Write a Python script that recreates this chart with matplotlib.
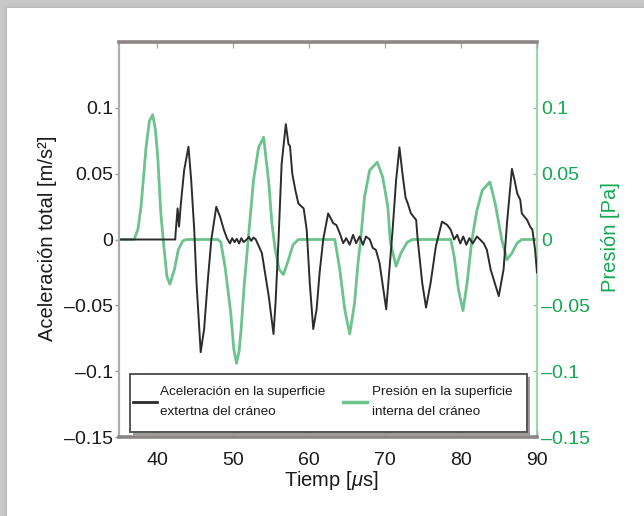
import matplotlib
matplotlib.use('Agg')
import matplotlib.pyplot as plt
from matplotlib.patches import Rectangle
from matplotlib.lines import Line2D
from matplotlib.ticker import FixedLocator, FixedFormatter

plt.rcParams['font.family'] = ['Liberation Sans', 'DejaVu Sans']
plt.rcParams['mathtext.fontset'] = 'custom'
plt.rcParams['mathtext.rm'] = 'Liberation Sans'
plt.rcParams['mathtext.it'] = 'Liberation Sans:italic'

# ---- data ----
accel_t = [35.0, 42.4, 42.45, 42.71, 42.9, 43.14, 43.57, 44.14, 44.5, 44.9, 45.2, 45.75,
           46.2, 46.7, 47.15, 47.8, 48.3, 48.8, 49.2, 49.6, 49.9, 50.2, 50.5, 50.8, 51.1,
           51.4, 51.8, 52.1, 52.4, 52.7, 53.0, 53.8, 54.7, 55.33, 55.6, 55.99, 56.4, 56.95,
           57.3, 57.5, 57.8, 58.2, 58.6, 59.3, 59.7, 60.1, 60.56, 61.0, 61.4, 61.87, 62.52,
           63.2, 63.6, 64.05, 64.5, 64.9, 65.36, 65.8, 66.2, 66.67, 67.1, 67.5, 68.0, 68.4,
           68.8, 69.28, 70.16, 71.0, 71.46, 71.9, 72.3, 72.7, 73.0, 73.4, 74.1, 74.3, 74.9,
           75.4, 76.0, 76.7, 77.5, 78.2, 78.65, 79.1, 79.5, 79.9, 80.3, 80.7, 81.1, 81.55,
           82.1, 82.5, 83.0, 83.4, 83.9, 84.97, 85.6, 86.05, 86.7, 87.05, 87.4, 87.8, 88.0,
           88.7, 89.1, 89.4, 89.75, 90.0]
accel_v = [0.0, 0.0, 0.005, 0.0236, 0.0098, 0.0273, 0.0525, 0.0705, 0.045, 0.0073, -0.033, -0.0856,
           -0.068, -0.030, 0.0, 0.0248, 0.0173, 0.0073, 0.001, -0.003, 0.001, -0.002, 0.0005, -0.003, 0.001,
           -0.002, 0.0, 0.002, -0.001, 0.0015, 0.0, -0.0103, -0.043, -0.0718, -0.048, 0.0, 0.0575, 0.0876,
           0.0725, 0.071, 0.050, 0.0376, 0.0273, 0.0236, 0.0073, -0.033, -0.068, -0.053, -0.025, 0.0, 0.0198,
           0.0123, 0.011, 0.0047, -0.0028, 0.001, -0.004, 0.0035, -0.0028, 0.0023, -0.004, 0.0023, 0.0, -0.0065,
           -0.0078, -0.0178, -0.053, 0.0073, 0.045, 0.070, 0.050, 0.032, 0.0273, 0.020, 0.0148, 0.0, -0.033,
           -0.0517, -0.033, -0.005, 0.0136, 0.011, 0.0073, 0.0, 0.0035, -0.003, 0.0023, -0.004, 0.001, -0.003,
           0.0023, 0.0, -0.003, -0.0078, -0.0228, -0.043, -0.0228, 0.0123, 0.0537, 0.045, 0.035, 0.030, 0.0198,
           0.0148, 0.0098, 0.0073, -0.008, -0.025]

press_t = [35.0, 37.0, 37.5, 37.9, 38.56, 39.0, 39.44, 39.8, 40.1, 40.5, 40.9, 41.3, 41.7, 42.3,
           42.8, 43.4, 43.9, 48.0, 48.4, 49.0, 49.7, 50.1, 50.46, 50.8, 51.07, 51.5, 52.0, 52.7,
           53.37, 54.03, 54.68, 55.12, 55.56, 56.08, 56.64, 57.3, 57.9, 58.6, 63.4, 64.05, 64.7,
           65.36, 66.0, 66.45, 66.8, 67.3, 67.97, 68.98, 69.7, 70.37, 70.7, 71.46, 72.1, 72.94,
           73.6, 78.65, 79.1, 79.66, 80.26, 80.8, 81.44, 82.1, 82.8, 83.8, 84.5, 85.36, 86.05,
           86.7, 87.37, 88.0, 90.0]
press_v = [0.0, 0.0, 0.008, 0.025, 0.070, 0.090, 0.0947, 0.083, 0.0625, 0.020, -0.005, -0.028, -0.0339, -0.0226,
           -0.0078, -0.001, 0.0, 0.0, -0.002, -0.0226, -0.0555, -0.083, -0.0941, -0.085, -0.068, -0.033, 0.0, 0.045,
           0.070, 0.0776, 0.045, 0.0123, -0.0078, -0.0228, -0.0266, -0.0153, -0.004, 0.0, 0.0, -0.0228, -0.053,
           -0.0718, -0.048, -0.0178, 0.0, 0.032, 0.0525, 0.0587, 0.0474, 0.025, -0.002, -0.0203, -0.0103, -0.002,
           0.0, 0.0, -0.0128, -0.038, -0.054, -0.033, 0.0, 0.0223, 0.0374, 0.0437, 0.0273, 0.0, -0.0153,
           -0.0103, -0.0028, 0.0, 0.0]

x_ticks = [40, 50, 60, 70, 80, 90]
y_ticks = [-0.15, -0.1, -0.05, 0, 0.05, 0.1]
y_tick_labels = ['\u20130.15', '\u20130.1', '\u20130.05', '0', '0.05', '0.1']

accel_label = 'Aceleración en la superficie\nextertna del cráneo'
press_label = 'Presión en la superficie\ninterna del cráneo'
x_title = r'Tiemp [$\mu$s]'
y_title = 'Aceleración total [m/s²]'
y2_title = 'Presión [Pa]'

# ---- styling ----
BLACK = '#2c2c2c'
GREEN_LINE = '#6cc38c'
GREEN_TXT = '#12a851'
W, H = 644, 516

fig = plt.figure(figsize=(W / 100, H / 100), dpi=100)
fig.patch.set_facecolor('#c9c9c9')
# soft shadow + white panel
for i, a in enumerate([0.05, 0.06, 0.08]):
    d = (3 - i) * 1.2
    fig.add_artist(Rectangle(((7 - d) / W, 0), 1, 1 - (8 - d) / H, transform=fig.transFigure,
                             facecolor='#888888', alpha=a, edgecolor='none', zorder=-2))
fig.add_artist(Rectangle((7 / W, 0), 1, 1 - 8 / H, transform=fig.transFigure,
                         facecolor='white', edgecolor='none', zorder=-1))

L, R, T, B = 119, 537, 42, 437
ax = fig.add_axes([L / W, 1 - B / H, (R - L) / W, (B - T) / H])
ax2 = ax.twinx()
ax2.set_zorder(1)
ax.set_zorder(2)
ax.patch.set_visible(False)
ax2.patch.set_visible(False)

ax2.plot(press_t, press_v, color=GREEN_LINE, lw=2.0, solid_joinstyle='round')
ax.plot(accel_t, accel_v, color=BLACK, lw=1.4, solid_joinstyle='round')

for a in (ax, ax2):
    a.set_xlim(35, 90)
    a.set_ylim(-0.15, 0.15)
    a.yaxis.set_major_locator(FixedLocator(y_ticks))
    a.yaxis.set_major_formatter(FixedFormatter(y_tick_labels))

ax.xaxis.set_major_locator(FixedLocator(x_ticks))
ax.set_xticklabels([str(v) for v in x_ticks])

ax.spines['top'].set_color('#8d8585')
ax.spines['top'].set_linewidth(2.6)
ax.spines['bottom'].set_color('#8d8585')
ax.spines['bottom'].set_linewidth(2.6)
ax.spines['left'].set_color('#b3abab')
ax.spines['left'].set_linewidth(1.6)
ax.spines['right'].set_visible(False)
for s in ('left', 'top', 'bottom'):
    ax2.spines[s].set_visible(False)
ax2.spines['right'].set_color('#9fd6ae')
ax2.spines['right'].set_linewidth(1.6)

ax.tick_params(axis='y', direction='out', length=3, width=1, color='#a09898',
               labelsize=14, pad=1, labelcolor='#1a1a1a')
ax.tick_params(axis='x', direction='in', length=4, width=1, color='#b0a8a8',
               labelsize=14, pad=11, top=True, labelcolor='#1a1a1a')
ax2.tick_params(axis='y', direction='in', length=3, width=1, color='#b0b0b0',
                labelsize=14, pad=3, labelcolor=GREEN_TXT)

fig.text(48 / W, 1 - 238 / H, y_title, rotation=90, ha='center', va='center',
         fontsize=14.5, color='#1a1a1a')
fig.text(611 / W, 1 - 237 / H, y2_title, rotation=90, ha='center', va='center',
         fontsize=14.5, color=GREEN_TXT)
fig.text(331 / W, 1 - 481 / H, x_title, ha='center', va='center',
         fontsize=14.5, color='#1a1a1a')


# legend (drawn by hand for exact line spacing)
def axx(px):
    return (px - L) / (R - L)


def axy(py):
    return (B - py) / (B - T)


lx0, lx1, ly0, ly1 = 130, 527, 374, 432
ax.add_patch(Rectangle((axx(lx0 + 2.5), axy(ly1 + 2.5)), axx(lx1) - axx(lx0), axy(ly0) - axy(ly1),
                       transform=ax.transAxes, facecolor='#9a9a9a', edgecolor='none', zorder=4))
ax.add_patch(Rectangle((axx(lx0), axy(ly1)), axx(lx1) - axx(lx0), axy(ly0) - axy(ly1),
                       transform=ax.transAxes, facecolor='white', edgecolor='#5a5555', lw=1.4, zorder=5))
ymid = axy(402)
for (hx0, hx1, tx, col, lw, lab) in [(133, 157, 160, BLACK, 2.0, accel_label),
                                     (343, 367, 372, GREEN_LINE, 2.5, press_label)]:
    ax.add_line(Line2D([axx(hx0), axx(hx1)], [ymid, ymid], transform=ax.transAxes,
                       color=col, lw=lw, zorder=6))
    ax.text(axx(tx), ymid, lab, transform=ax.transAxes, ha='left', va='center',
            fontsize=9.7, linespacing=1.9, color='#1a1a1a', zorder=6)

fig.savefig('out.png', dpi=100, facecolor=fig.get_facecolor())
